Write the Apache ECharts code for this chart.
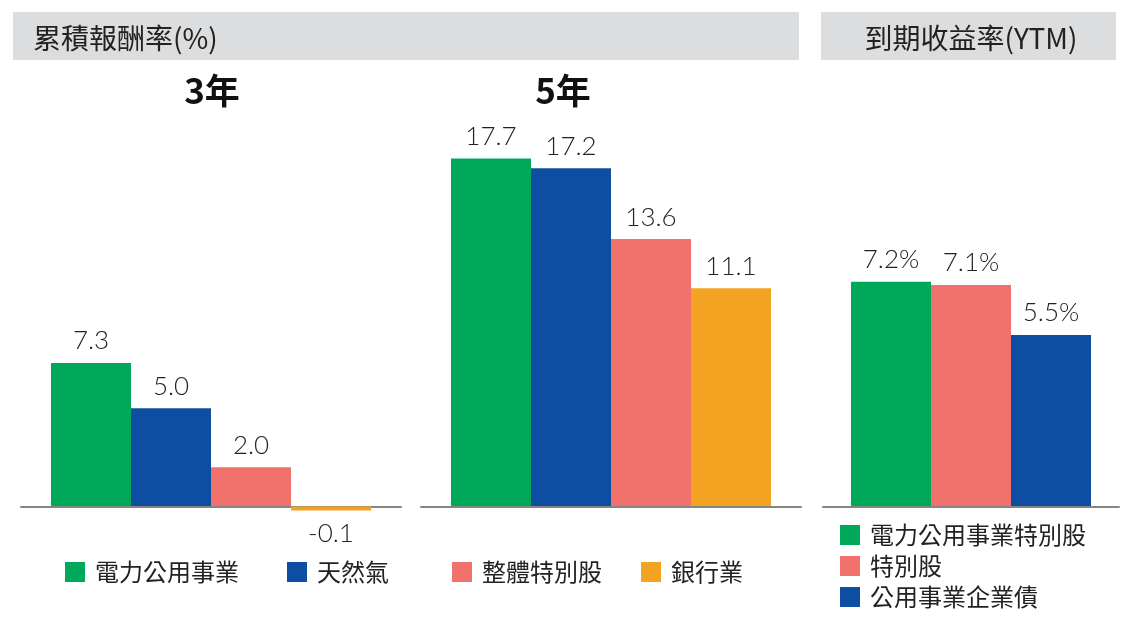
<!DOCTYPE html>
<html>
<head>
<meta charset="utf-8">
<script src="https://cdn.jsdelivr.net/npm/echarts@6/dist/echarts.min.js"></script>
<style>
html,body{margin:0;padding:0;background:#fff;}
#main{width:1128px;height:620px;}
</style>
</head>
<body>
<div id="main"></div>
<script>
// ---- data ----
const retCategories = ['電力公用事業', '天然氣', '整體特別股', '銀行業'];
const return3y = [7.3, 5.0, 2.0, -0.1];
const return5y = [17.7, 17.2, 13.6, 11.1];
const ytmCategories = ['電力公用事業特別股', '特別股', '公用事業企業債'];
const ytmValues = [7.2, 7.1, 5.5];
const retColors = ['#00A85A', '#0D4EA2', '#F1716D', '#F2A322'];
const ytmColors = ['#00A85A', '#F1716D', '#0D4EA2'];
const periodTitles = ['3年', '5年'];
const headerTexts = ['累積報酬率(%)', '到期收益率(YTM)'];

const FONT = '"Noto Sans CJK TC", "Noto Sans", sans-serif';
const NUMFONT = 'Lato, "Noto Sans", sans-serif';
const TXT = '#222222';

const chart = echarts.init(document.getElementById('main'), null, {renderer: 'canvas'});

const labelBase = {
  show: true,
  fontSize: 26,
  fontFamily: NUMFONT,
  fontWeight: 300,
  color: TXT
};

function makeSeries(names, values, colors, axisIdx, fmt) {
  return names.map((n, i) => ({
    type: 'bar',
    name: n,
    xAxisIndex: axisIdx,
    yAxisIndex: axisIdx,
    barWidth: 80,
    barGap: '0%',
    barMinHeight: values[i] < 0 ? 4 : 0,
    z: values[i] < 0 ? 6 : 2,
    itemStyle: {color: colors[i]},
    data: [{
      value: values[i],
      label: Object.assign({}, labelBase, {
        position: values[i] < 0 ? 'bottom' : 'top',
        distance: values[i] < 0 ? 10 : 9,
        formatter: fmt
      })
    }],
    animation: false
  }));
}

const fmt1 = p => p.value.toFixed(1);
const fmtPct = p => p.value.toFixed(1) + '%';

const series = []
  .concat(makeSeries(retCategories, return3y, retColors, 0, fmt1))
  .concat(makeSeries(retCategories, return5y, retColors, 1, fmt1))
  .concat(makeSeries(ytmCategories, ytmValues, ytmColors, 2, fmtPct));

const k = 19.66, zeroY = 506.5, k3 = 31.2;
const grids = [
  {left: 21, width: 380, top: zeroY - 18 * k, height: 20 * k},
  {left: 421, width: 380, top: zeroY - 18 * k, height: 20 * k},
  {left: 823, width: 296, top: zeroY - 10 * k3, height: 10 * k3}
];

const axisLine = {show: true, onZero: true, lineStyle: {color: '#858585', width: 2}};
const xAxes = [0, 1, 2].map(i => ({
  type: 'category',
  gridIndex: i,
  data: [i < 2 ? periodTitles[i] : 'YTM'],
  axisLine: axisLine,
  axisTick: {show: false},
  axisLabel: {show: false},
  z: 4
}));
const yAxes = [0, 1, 2].map(i => ({
  type: 'value',
  gridIndex: i,
  min: i < 2 ? -2 : 0,
  max: i < 2 ? 18 : 10,
  show: false,
  splitLine: {show: false}
}));

const legendText = {fontSize: 24, fontFamily: FONT, color: TXT, padding: [0, 0, 0, 5]};
const legends = [
  {data: retCategories.slice(0, 2), left: 60, top: 555, itemGap: 48},
  {data: retCategories.slice(2, 4), left: 447, top: 555, itemGap: 39},
  {data: ytmCategories, left: 835, top: 518, height: 110, orient: 'vertical', itemGap: 7}
].map(l => Object.assign({
  icon: 'rect',
  itemWidth: 20,
  itemHeight: 20,
  selectedMode: false,
  textStyle: legendText
}, l));

const graphic = [
  {type: 'rect', shape: {x: 13, y: 12, width: 786, height: 48}, style: {fill: '#DCDDDF'}, silent: true},
  {type: 'rect', shape: {x: 821, y: 12, width: 295, height: 48}, style: {fill: '#DCDDDF'}, silent: true},
  {type: 'text', x: 33, y: 38, style: {text: headerTexts[0], fontSize: 28, fontFamily: FONT, fill: TXT, textAlign: 'left', textVerticalAlign: 'middle'}},
  {type: 'text', x: 971, y: 38, style: {text: headerTexts[1], fontSize: 28, fontFamily: FONT, fill: TXT, textAlign: 'center', textVerticalAlign: 'middle'}},
  {type: 'text', x: 212, y: 91, style: {text: periodTitles[0], fontSize: 35, fontWeight: 'bold', fontFamily: FONT, fill: '#111', textAlign: 'center', textVerticalAlign: 'middle'}},
  {type: 'text', x: 563, y: 91, style: {text: periodTitles[1], fontSize: 35, fontWeight: 'bold', fontFamily: FONT, fill: '#111', textAlign: 'center', textVerticalAlign: 'middle'}}
];

chart.setOption({
  animation: false,
  backgroundColor: '#ffffff',
  grid: grids,
  xAxis: xAxes,
  yAxis: yAxes,
  legend: legends,
  graphic: graphic,
  series: series
});
</script>
</body>
</html>
